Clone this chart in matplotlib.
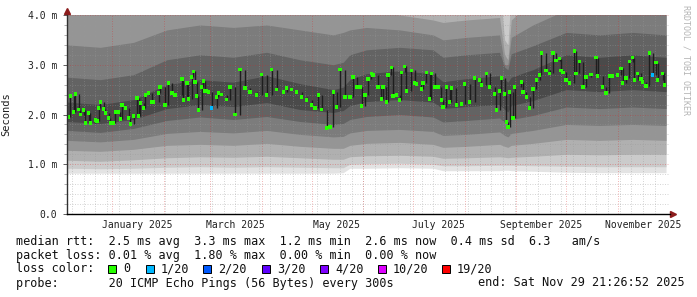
import numpy as np
import pandas as pd
import matplotlib
matplotlib.use("Agg")
import matplotlib.pyplot as plt
import matplotlib.dates as mdates
from matplotlib.patches import Rectangle

# smokeping style "last 360 days" graph
start = pd.Timestamp("2024-12-04 21:26:52")
end = pd.Timestamp("2025-11-29 21:26:52")

# median rtt (ms): day offset from start -> value
med_day = [1, 2, 4, 5, 7, 8, 10, 11, 13, 14, 17, 18, 19, 20, 22, 23, 25, 26, 28, 29,
           31, 32, 33, 35, 37, 38, 40, 42, 43, 44, 46, 47, 49, 51, 52, 55, 56, 59, 61, 63,
           65, 69, 70, 72, 73, 75, 76, 77, 78, 79, 81, 82, 83, 84, 85, 87, 90, 91, 93, 96,
           98, 101, 104, 107, 110, 114, 117, 120, 123, 126, 130, 132, 135, 138, 141, 144, 147, 149, 151, 153,
           156, 158, 160, 162, 164, 167, 170, 172, 174, 176, 177, 179, 181, 183, 184, 187, 189, 190, 192, 193,
           195, 196, 198, 200, 201, 203, 204, 207, 209, 210, 213, 214, 216, 218, 219, 221, 223, 225, 226, 228,
           230, 231, 234, 237, 239, 242, 245, 248, 249, 252, 254, 257, 258, 260, 261, 263, 264, 265, 266, 268,
           269, 273, 274, 276, 278, 280, 282, 284, 285, 288, 290, 292, 294, 296, 297, 298, 300, 302, 305, 306,
           308, 310, 312, 315, 318, 319, 322, 324, 326, 328, 331, 333, 334, 336, 338, 340, 341, 343, 345, 346,
           348, 350, 352, 354, 355, 358, 359]
med_ms = [1.95, 2.37, 2.05, 2.41, 2.10, 2.00, 2.09, 1.83, 2.03, 1.83, 1.89, 1.87, 2.13, 2.25, 2.11, 2.03, 1.93, 1.83, 1.83, 2.05,
          2.05, 1.91, 2.19, 2.13, 1.93, 1.81, 1.97, 2.33, 1.97, 2.23, 2.13, 2.39, 2.43, 2.25, 2.25, 2.43, 2.55, 2.19, 2.63, 2.43,
          2.39, 2.71, 2.29, 2.63, 2.31, 2.75, 2.87, 2.65, 2.37, 2.09, 2.55, 2.67, 2.47, 2.47, 2.45, 2.13, 2.35, 2.43, 2.40, 2.30,
          2.55, 2.00, 2.90, 2.53, 2.45, 2.39, 2.80, 2.39, 2.90, 2.50, 2.45, 2.53, 2.50, 2.45, 2.35, 2.29, 2.19, 2.13, 2.39, 2.10,
          1.73, 1.75, 2.45, 2.15, 2.90, 2.35, 2.35, 2.75, 2.55, 2.55, 2.17, 2.39, 2.71, 2.83, 2.79, 2.55, 2.31, 2.55, 2.25, 2.79,
          2.95, 2.37, 2.39, 2.29, 2.85, 2.97, 2.47, 2.89, 2.63, 2.61, 2.51, 2.63, 2.85, 2.31, 2.83, 2.55, 2.55, 2.29, 2.15, 2.55,
          2.25, 2.53, 2.19, 2.21, 2.61, 2.25, 2.73, 2.69, 2.59, 2.83, 2.55, 2.41, 2.09, 2.47, 2.73, 2.41, 1.85, 1.75, 2.45, 1.93,
          2.55, 2.65, 2.45, 2.35, 2.13, 2.51, 2.69, 2.79, 3.24, 2.89, 2.83, 3.24, 3.08, 3.12, 2.89, 2.85, 2.69, 2.63, 3.28, 2.83,
          3.06, 2.55, 2.75, 2.81, 3.14, 2.77, 2.55, 2.43, 2.77, 2.77, 2.79, 2.93, 2.63, 2.73, 3.06, 3.14, 2.69, 2.83, 2.71, 2.65,
          2.57, 3.24, 2.79, 3.04, 2.69, 2.83, 2.59]
loss_day = [87, 352]
loss_cls = ["1/20", "1/20"]

# smoke (sorted ping bands), coarse reading
smoke_day = [0, 20, 40, 60, 80, 100, 120, 140, 160, 166, 170, 180, 200, 220, 226, 240, 260, 263, 265, 267, 280, 300, 320, 340, 360]
lo1 = [.82, .82, .82, .82, .82, .82, .82, .82, .82, .83, .92, .92, .93, .92, .87, .87, .87, .88, .88, .87, .86, .84, .83, .83, .83]
lo2 = [.92, .91, .92, .94, .95, .94, .95, .94, .93, .93, 1.0, 1.01, 1.02, 1.0, .97, .97, .98, .98, .98, .98, .97, .96, .95, .95, .95]
lo3 = [1.08, 1.06, 1.09, 1.13, 1.15, 1.14, 1.16, 1.13, 1.1, 1.1, 1.15, 1.17, 1.18, 1.16, 1.12, 1.13, 1.15, 1.14, 1.13, 1.14, 1.16, 1.2, 1.19, 1.2, 1.2]
lo4 = [1.28, 1.26, 1.3, 1.38, 1.4, 1.38, 1.42, 1.36, 1.32, 1.32, 1.38, 1.42, 1.44, 1.4, 1.34, 1.36, 1.4, 1.36, 1.34, 1.38, 1.42, 1.5, 1.48, 1.5, 1.48]
lo5 = [1.48, 1.45, 1.5, 1.62, 1.66, 1.63, 1.68, 1.6, 1.55, 1.56, 1.63, 1.68, 1.7, 1.66, 1.58, 1.6, 1.65, 1.58, 1.55, 1.62, 1.68, 1.8, 1.78, 1.8, 1.78]
lo6 = [1.68, 1.64, 1.72, 1.88, 1.95, 1.9, 1.96, 1.86, 1.8, 1.82, 1.9, 1.96, 2.0, 1.95, 1.85, 1.88, 1.93, 1.84, 1.8, 1.9, 1.98, 2.15, 2.12, 2.15, 2.12]
lo7 = [1.86, 1.82, 1.9, 2.12, 2.2, 2.16, 2.24, 2.1, 2.04, 2.08, 2.18, 2.26, 2.3, 2.25, 2.12, 2.16, 2.2, 2.1, 2.05, 2.18, 2.28, 2.5, 2.46, 2.5, 2.46]
hi7 = [2.25, 2.2, 2.3, 2.6, 2.7, 2.65, 2.78, 2.62, 2.5, 2.55, 2.7, 2.82, 2.88, 2.82, 2.66, 2.72, 2.78, 2.7, 2.65, 2.75, 2.9, 3.2, 3.15, 3.2, 3.15]
hi6 = [2.75, 2.7, 2.8, 3.1, 3.2, 3.15, 3.25, 3.1, 3.0, 3.05, 3.2, 3.3, 3.35, 3.3, 3.15, 3.2, 3.25, 2.95, 2.9, 3.22, 3.38, 3.65, 3.6, 3.65, 3.6]
hi5 = [3.4, 3.35, 3.45, 3.7, 3.8, 3.75, 3.8, 3.7, 3.6, 3.65, 3.7, 3.75, 3.7, 3.6, 3.5, 3.55, 3.6, 3.0, 3.0, 3.55, 3.8, 4.1, 4.05, 4.1, 4.05]
hi4 = [4.1, 4.05, 4.15, 4.4, 4.5, 4.45, 4.4, 4.3, 4.2, 4.25, 4.2, 4.1, 4.0, 3.9, 3.85, 3.9, 3.95, 3.2, 3.1, 3.9, 4.3, 4.6, 4.55, 4.6, 4.55]
hi3 = [4.8, 4.7, 4.8, 5.0, 5.1, 5.0, 5.0, 4.9, 4.8, 4.8, 4.8, 4.7, 4.6, 4.5, 4.4, 4.5, 4.6, 3.5, 3.4, 4.5, 4.9, 5.2, 5.1, 5.2, 5.1]

loss_labels = ["0", "1/20", "2/20", "3/20", "4/20", "10/20", "19/20"]
loss_colors = ["#26ff00", "#00b8ff", "#0059ff", "#5e00ff", "#7e00ff", "#dd00ff", "#ff0000"]
month_labels = ["January 2025", "March 2025", "May 2025", "July 2025", "September 2025", "November 2025"]
label_months = ["2025-01-01", "2025-03-01", "2025-05-01", "2025-07-01", "2025-09-01", "2025-11-01"]

mono = "DejaVu Sans Mono"
W, H = 697, 297

fig = plt.figure(figsize=(W / 100, H / 100), dpi=100)
fig.patch.set_facecolor("white")
ax = fig.add_axes([67 / W, 83 / H, 603 / W, 199 / H])

t0 = mdates.date2num(start.to_pydatetime())
sx = t0 + np.array(smoke_day, dtype=float)
mx = t0 + np.array(med_day, dtype=float)
my = np.array(med_ms)

# smoke, outer bands first
top = 4.6
bands = [(lo1, None, "#e3e3e3"), (lo2, None, "#cbcbcb"), (lo3, hi3, "#b0b0b0"),
         (lo4, hi4, "#959595"), (lo5, hi5, "#7c7c7c"), (lo6, hi6, "#636363"), (lo7, hi7, "#4a4a4a")]
for lo, hi, c in bands:
    upper = top if hi is None else np.array(hi)
    ax.fill_between(sx, lo, upper, color=c, lw=0, zorder=1)

# grid (rrdtool style dots)
px_day = 599 / 360
ax.set_xlim(t0, t0 + 603 / px_day)
ax.set_ylim(0, 4.0)
minor_c = (0.6, 0.6, 0.6, 0.4)
major_c = (0.85, 0.15, 0.15, 0.32)
gkw = dict(lw=0.72, ls=(0, (1, 1.5)), zorder=2)
for y in np.arange(0.2, 4.01, 0.2):
    if abs(y - round(y)) > 0.01:
        ax.axhline(y, color=minor_c, **gkw)
for y in [1, 2, 3, 4]:
    ax.axhline(y, color=major_c, **gkw)
for d in pd.date_range(start.normalize(), end, freq="W-SUN"):
    ax.axvline(mdates.date2num(d.to_pydatetime()), color=minor_c, **gkw)
for d in pd.date_range("2025-01-01", "2025-11-01", freq="MS"):
    ax.axvline(mdates.date2num(d.to_pydatetime()), color=major_c, **gkw)

# median: dark connectors + loss-coloured marks
ax.vlines(mx[1:], np.minimum(my[:-1], my[1:]), np.maximum(my[:-1], my[1:]),
          color="#1e1e1e", lw=1.0, zorder=3)
cols = []
for d in med_day:
    if d in loss_day:
        cols.append(loss_colors[loss_labels.index(loss_cls[loss_day.index(d)])])
    else:
        cols.append(loss_colors[0])
ax.scatter(mx, my, marker="s", s=6, c=cols, linewidths=0, zorder=4)

# axes look
for s in ["top", "right"]:
    ax.spines[s].set_visible(False)
ax.spines["bottom"].set_color("black")
ax.spines["left"].set_color("#303030")
ax.spines["bottom"].set_linewidth(1.0)
ax.spines["left"].set_linewidth(1.0)
ax.spines["bottom"].set_zorder(5)
ax.spines["left"].set_zorder(5)
ax.plot(1 + 3 / 603, 0, marker=">", ms=4.5, color="#8c1c1c", transform=ax.transAxes, clip_on=False)
ax.plot(0, 1 + 4 / 199, marker="^", ms=4.5, color="#8c1c1c", transform=ax.transAxes, clip_on=False)

ax.set_yticks([0, 1, 2, 3, 4], ["0.0", "1.0 m", "2.0 m", "3.0 m", "4.0 m"])
ax.set_yticks(np.arange(0, 4.01, 0.2), minor=True)
ax.tick_params(axis="y", which="major", length=3, width=0.7, color="#606060", pad=4)
ax.tick_params(axis="y", which="minor", length=2, width=0.7, color="#b0b0b0")
lab_x = [mdates.date2num(pd.Timestamp(m).to_pydatetime()) + 15 for m in label_months]
ax.set_xticks(lab_x, month_labels)
ax.tick_params(axis="x", length=0, pad=4)
for lab in ax.get_xticklabels() + ax.get_yticklabels():
    lab.set_family(mono)
    lab.set_fontsize(7)
    lab.set_color("#202020")

ax.set_ylabel("Seconds", family=mono, fontsize=7.5, color="#202020")
ax.yaxis.set_label_coords(-56 / 603, 0.5)

# watermark
fig.text(686 / W, 1 - 5 / H, "RRDTOOL / TOBI OETIKER", rotation=-90, ha="center", va="top",
         family=mono, fontsize=6, color="#b4b4b4")

# legend block
def ftxt(x, y, s, **kw):
    fig.text(x / W, 1 - y / H, s, family=mono, fontsize=8.5, va="center", color="#101010", **kw)

ftxt(16, 242, "median rtt:  2.5 ms avg  3.3 ms max  1.2 ms min  2.6 ms now  0.4 ms sd  6.3   am/s")
ftxt(16, 255, "packet loss: 0.01 % avg  1.80 % max  0.00 % min  0.00 % now")
ftxt(16, 269, "loss color:")
box_x = [108, 146, 203, 262, 320, 378, 442]
for bx, lab, c in zip(box_x, loss_labels, loss_colors):
    fig.patches.append(Rectangle((bx / W, 1 - 273 / H), 8 / W, 8 / H, transform=fig.transFigure,
                                 facecolor=c, edgecolor="black", lw=0.7))
    ftxt(bx + 15, 269, lab)
ftxt(16, 283, "probe:       20 ICMP Echo Pings (56 Bytes) every 300s")
ftxt(478, 283, "end: Sat Nov 29 21:26:52 2025")

fig.savefig("out.png", dpi=100)
